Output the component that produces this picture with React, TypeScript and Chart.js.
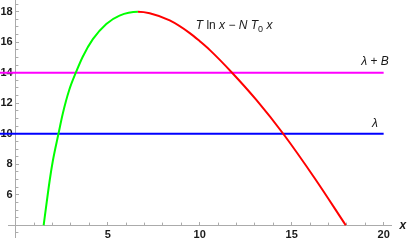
import React, { useEffect, useRef } from "react";
import { Chart, registerables } from "chart.js";

Chart.register(...registerables);

// ---- data ----
const curveX = [1.515, 1.85, 2.01, 2.32, 2.55, 2.9, 3.28, 3.64, 4.19, 4.92, 5.64, 6.64, 7.28, 8.37, 9.46, 10.02, 10.54, 11.76, 13.09, 14.54, 16.27, 17.94];
const curveY = [4.0, 7.0, 8.2, 10.0, 11.3, 12.85, 14.05, 15.05, 16.2, 17.2, 17.75, 18.0, 17.9, 17.43, 16.6, 16.05, 15.5, 14.0, 12.2, 10.0, 7.05, 4.0];
const peakX = 6.64; // where the curve switches from green to red

const lambdaX = [-0.86, 20];
const lambdaY = [10, 10];
const lambdaBX = [-0.86, 20];
const lambdaBY = [14, 14];

const xMajorTicks = [5, 10, 15, 20];
const xMinorTicks = [1, 2, 3, 4, 5, 6, 7, 8, 9, 10, 11, 12, 13, 14, 15, 16, 17, 18, 19, 20];
const yMajorTicks = [6, 8, 10, 12, 14, 16, 18];
const yMinorTicks = [3.5, 4, 4.5, 5, 5.5, 6, 6.5, 7, 7.5, 8, 8.5, 9, 9.5, 10, 10.5, 11, 11.5, 12, 12.5, 13, 13.5, 14, 14.5, 15, 15.5, 16, 16.5, 17, 17.5, 18, 18.5];

const X_MIN = -0.424;
const X_MAX = 20.4;
const Y_MIN = 3.23;
const Y_MAX = 18.77;

const GRAY = "#ababab";
const TEXT = "#1a1a1a";
const GREEN = "#00ff00";
const RED = "#ff0000";
const MAGENTA = "#ff00ff";
const BLUE = "#0000ff";
const FONT = "'Liberation Sans', Arial, sans-serif";

type Run = { t: string; italic?: boolean; sub?: boolean };

function drawRuns(ctx: CanvasRenderingContext2D, runs: Run[], cx: number, baseY: number, size: number) {
  const fontFor = (r: Run) =>
    `${r.italic ? "italic " : ""}${r.sub ? Math.round(size * 0.72) : size}px ${FONT}`;
  let total = 0;
  const widths = runs.map((r) => {
    ctx.font = fontFor(r);
    const w = ctx.measureText(r.t).width;
    total += w;
    return w;
  });
  let x = cx - total / 2;
  runs.forEach((r, i) => {
    ctx.font = fontFor(r);
    ctx.fillText(r.t, x, baseY + (r.sub ? 3 : 0));
    x += widths[i];
  });
}

const annotPlugin = {
  id: "annot",
  afterDraw(chart: any) {
    const { ctx } = chart;
    const xs = chart.scales.x;
    const ys = chart.scales.y;
    ctx.save();
    ctx.fillStyle = TEXT;
    ctx.textAlign = "left";
    ctx.textBaseline = "alphabetic";
    drawRuns(
      ctx,
      [
        { t: "T", italic: true },
        { t: " " },
        { t: "ln" },
        { t: " " },
        { t: "x", italic: true },
        { t: " \u2212 " },
        { t: "N", italic: true },
        { t: " " },
        { t: "T", italic: true },
        { t: "0", sub: true },
        { t: " " },
        { t: "x", italic: true },
      ],
      xs.getPixelForValue(11.87),
      ys.getPixelForValue(16.85),
      12
    );
    drawRuns(
      ctx,
      [{ t: "\u03bb", italic: true }, { t: " + " }, { t: "B", italic: true }],
      xs.getPixelForValue(19.53),
      ys.getPixelForValue(14.505),
      12
    );
    drawRuns(ctx, [{ t: "\u03bb", italic: true }], xs.getPixelForValue(19.53), ys.getPixelForValue(10.46), 12);
    // axis label
    ctx.font = `italic bold 12px ${FONT}`;
    ctx.textAlign = "center";
    ctx.fillText("x", xs.getPixelForValue(21.05), ys.getPixelForValue(4) + 3.5);
    ctx.restore();
  },
};

const noPad = (s: any) => {
  s.paddingLeft = 0;
  s.paddingRight = 0;
  s.paddingTop = 0;
  s.paddingBottom = 0;
};
const zeroH = (s: any) => {
  s.height = 0;
  noPad(s);
};
const zeroW = (s: any) => {
  s.width = 0;
  noPad(s);
};
const setTicks = (vals: number[]) => (s: any) => {
  s.ticks = vals.map((v) => ({ value: v }));
};

export default function App() {
  const ref = useRef<HTMLCanvasElement | null>(null);
  useEffect(() => {
    if (!ref.current) return;
    const tickFont = { family: FONT, size: 11, weight: "bold" as const };
    const xBase = { type: "linear" as const, axis: "x" as const, min: X_MIN, max: X_MAX, bounds: "data" as const, afterFit: zeroH };
    const yBase = { type: "linear" as const, axis: "y" as const, min: Y_MIN, max: Y_MAX, bounds: "data" as const, afterFit: zeroW };
    const chart = new Chart(ref.current, {
      type: "line",
      data: {
        datasets: [
          {
            data: curveX.map((x, i) => ({ x, y: curveY[i] })),
            borderColor: GREEN,
            borderWidth: 2,
            pointRadius: 0,
            cubicInterpolationMode: "monotone",
            segment: {
              borderColor: (c: any) => (c.p0.parsed.x >= peakX - 1e-6 ? RED : GREEN),
            },
            xAxisID: "x",
            yAxisID: "y",
          },
          {
            data: lambdaBX.map((x, i) => ({ x, y: lambdaBY[i] })),
            borderColor: MAGENTA,
            borderWidth: 2,
            pointRadius: 0,
            clip: false as any,
            xAxisID: "x",
            yAxisID: "y",
          },
          {
            data: lambdaX.map((x, i) => ({ x, y: lambdaY[i] })),
            borderColor: BLUE,
            borderWidth: 2,
            pointRadius: 0,
            clip: false as any,
            xAxisID: "x",
            yAxisID: "y",
          },
        ],
      },
      options: {
        animation: false,
        responsive: false,
        events: [],
        layout: { padding: { left: 8, right: 18, top: 0, bottom: 8 } },
        plugins: { legend: { display: false }, tooltip: { enabled: false } },
        scales: {
          x: {
            ...xBase,
            position: { y: 4 } as any,
            afterBuildTicks: setTicks(xMajorTicks),
            grid: { drawOnChartArea: false, drawTicks: true, tickLength: -4, color: GRAY, tickColor: GRAY, lineWidth: 1 },
            border: { display: true, color: GRAY, width: 1 },
            ticks: { display: false },
          },
          xMinor: {
            ...xBase,
            position: { y: 4 } as any,
            afterBuildTicks: setTicks(xMinorTicks),
            grid: { drawOnChartArea: false, drawTicks: true, tickLength: -2.4, color: GRAY, tickColor: GRAY, lineWidth: 1 },
            border: { display: false },
            ticks: { display: false },
          },
          xLab: {
            ...xBase,
            position: { y: 4 } as any,
            afterBuildTicks: setTicks(xMajorTicks),
            grid: { display: false, drawTicks: false, drawOnChartArea: false },
            border: { display: false },
            ticks: { display: true, padding: 3, font: tickFont, color: TEXT, autoSkip: false, maxRotation: 0 },
          },
          y: {
            ...yBase,
            position: { x: 0 } as any,
            afterBuildTicks: setTicks(yMajorTicks),
            grid: { drawOnChartArea: false, drawTicks: true, tickLength: -4, color: GRAY, tickColor: GRAY, lineWidth: 1 },
            border: { display: true, color: GRAY, width: 1 },
            ticks: { display: false },
          },
          yMinor: {
            ...yBase,
            position: { x: 0 } as any,
            afterBuildTicks: setTicks(yMinorTicks),
            grid: { drawOnChartArea: false, drawTicks: true, tickLength: -2.4, color: GRAY, tickColor: GRAY, lineWidth: 1 },
            border: { display: false },
            ticks: { display: false },
          },
          yLab: {
            ...yBase,
            position: { x: -0.17 } as any,
            afterBuildTicks: setTicks(yMajorTicks),
            grid: { display: false, drawTicks: false, drawOnChartArea: false },
            border: { display: false },
            ticks: { display: true, padding: 0, font: tickFont, color: TEXT, autoSkip: false },
          },
        } as any,
      },
      plugins: [annotPlugin],
    });
    return () => chart.destroy();
  }, []);
  return (
    <div style={{ position: "absolute", left: 0, top: 0, width: 409, height: 245 }}>
      <canvas ref={ref} width={409} height={245} style={{ display: "block" }} />
    </div>
  );
}
